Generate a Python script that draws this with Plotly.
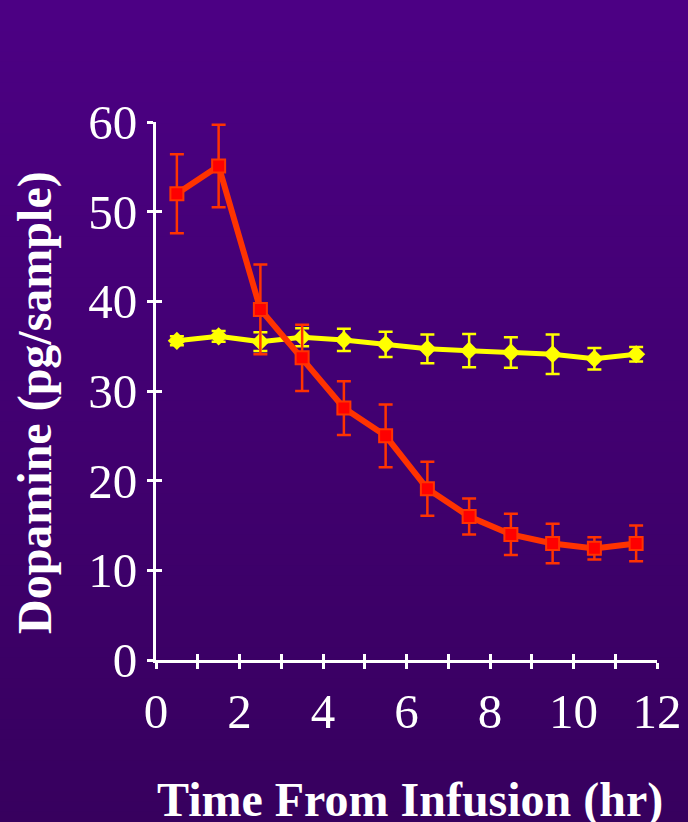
import plotly.graph_objects as go

time_hr = [0.5, 1.5, 2.5, 3.5, 4.5, 5.5, 6.5, 7.5, 8.5, 9.5, 10.5, 11.5]
red_vals = [52.0, 55.1, 39.1, 33.7, 28.1, 25.0, 19.1, 16.0, 14.0, 13.0, 12.45, 13.0]
red_err = [4.4, 4.6, 5.0, 3.7, 3.0, 3.5, 3.0, 2.0, 2.3, 2.2, 1.25, 2.0]
yellow_vals = [35.6, 36.1, 35.5, 36.0, 35.7, 35.2, 34.7, 34.5, 34.3, 34.1, 33.6, 34.1]
yellow_err = [0.5, 0.6, 1.05, 1.0, 1.25, 1.4, 1.6, 1.85, 1.7, 2.2, 1.2, 0.8]

x_tickvals = list(range(0, 13))
x_ticktext = [str(v) if v % 2 == 0 else "" for v in x_tickvals]
y_tickvals = [0, 10, 20, 30, 40, 50, 60]

x_title = "<b>Time From Infusion (hr)</b>"
y_title = "<b>Dopamine (pg/sample)</b>"

FONT = "Liberation Serif, Times New Roman, serif"

fig = go.Figure()

fig.add_trace(go.Scatter(
    x=time_hr, y=yellow_vals, mode="lines+markers",
    line=dict(color="#FFFF00", width=5),
    marker=dict(symbol="diamond", size=14, color="#FFFF00"),
    error_y=dict(type="data", array=yellow_err, color="#FFFF00", thickness=2.5, width=7),
    showlegend=False,
))
fig.add_trace(go.Scatter(
    x=time_hr, y=red_vals, mode="lines+markers",
    line=dict(color="#FF3300", width=6),
    marker=dict(symbol="square", size=13, color="#FF0000", line=dict(color="#FF3300", width=2)),
    error_y=dict(type="data", array=red_err, color="#FF3300", thickness=2.5, width=7),
    showlegend=False,
))
# invisible trace to hold the overlay axes (inside halves of the crossing ticks)
fig.add_trace(go.Scatter(x=[time_hr[0]], y=[red_vals[0]], xaxis="x2", yaxis="y2",
                         mode="markers", marker=dict(opacity=0), showlegend=False, hoverinfo="skip"))

# gradient background built from stacked bands
W, H = 688, 822
L, R, T, B = 156, 31, 122, 162
pw = W - L - R
ph = H - T - B
n = 80
top = (76, 0, 132)
bot = (55, 0, 94)
bands = []
for i in range(n):
    t = (i + 0.5) / n
    c = tuple(round(top[k] + (bot[k] - top[k]) * t) for k in range(3))
    ytop_px = i * H / n
    ybot_px = (i + 1) * H / n + 1
    y0 = (H - B - ybot_px) / ph
    y1 = (H - B - ytop_px) / ph
    bands.append(dict(type="rect", xref="paper", yref="paper", layer="below",
                      x0=-1, x1=2, y0=y0, y1=y1,
                      line=dict(width=0), fillcolor="rgb(%d,%d,%d)" % c))

axis_common = dict(showgrid=False, zeroline=False, showline=True, linecolor="white",
                   linewidth=3, tickcolor="white", tickwidth=3, ticklen=6, automargin=False)

annotations = [
    dict(text=x_title, xref="paper", yref="paper", x=(410 - L) / pw, y=(H - B - 800) / ph,
         xanchor="center", yanchor="middle", showarrow=False,
         font=dict(size=48, family=FONT, color="white")),
    dict(text=y_title, xref="paper", yref="paper", x=(35 - L) / pw, y=(H - B - 403) / ph,
         xanchor="center", yanchor="middle", showarrow=False, textangle=-90,
         font=dict(size=48, family=FONT, color="white")),
]

fig.update_layout(
    width=W, height=H,
    margin=dict(l=L, r=R, t=T, b=B, pad=0, autoexpand=False),
    paper_bgcolor="rgb(70,0,122)",
    plot_bgcolor="rgba(0,0,0,0)",
    shapes=bands,
    annotations=annotations,
    font=dict(family=FONT, color="white"),
    xaxis=dict(range=[0, 12], tickmode="array", tickvals=x_tickvals, ticktext=x_ticktext,
               ticks="outside", tickfont=dict(size=49, family=FONT, color="white"),
               **axis_common),
    yaxis=dict(range=[0, 60], tickmode="array", tickvals=y_tickvals,
               ticks="outside", tickfont=dict(size=49, family=FONT, color="white"),
               **axis_common),
    xaxis2=dict(range=[0, 12], overlaying="x", anchor="y2", tickmode="array", tickvals=x_tickvals,
                ticks="inside", showticklabels=False, side="bottom", **axis_common),
    yaxis2=dict(range=[0, 60], overlaying="y", anchor="x2", tickmode="array", tickvals=y_tickvals,
                ticks="inside", showticklabels=False, side="left", **axis_common),
)

fig.write_html("out.html")
